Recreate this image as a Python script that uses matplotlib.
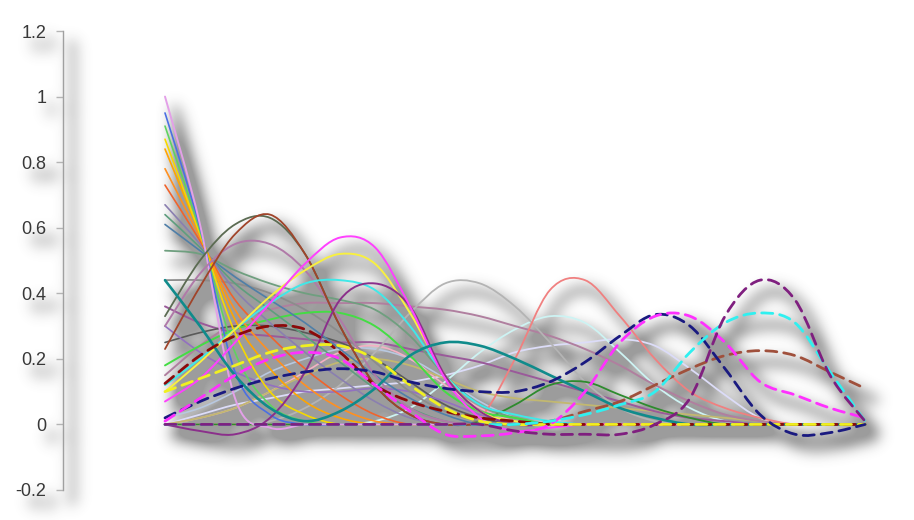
import matplotlib
matplotlib.use("Agg")
import matplotlib.pyplot as plt
from matplotlib.path import Path
from matplotlib.patches import PathPatch
import numpy as np

WIDTH = 914
HEIGHT = 520
AX_RECT = [63 / WIDTH, 30 / HEIGHT, (900 - 63) / WIDTH, 459 / HEIGHT]

# x positions (evenly spaced sample points along the curves)
x_pos = list(range(21))

# y axis ticks
tick_values = [-0.2, 0, 0.2, 0.4, 0.6, 0.8, 1, 1.2]
tick_labels = ["-0.2", "0", "0.2", "0.4", "0.6", "0.8", "1", "1.2"]

# fan of lines starting high on the left
plum = [1.00, 0.61, 0.08, -0.01, 0, 0, 0, 0, 0, 0, 0, 0, 0, 0, 0, 0, 0, 0, 0, 0, 0]
royal = [0.95, 0.60, 0.16, 0.03, 0, 0, 0, 0, 0, 0, 0, 0, 0, 0, 0, 0, 0, 0, 0, 0, 0]
lime = [0.91, 0.59, 0.22, 0.06, 0.01, 0, 0, 0, 0, 0, 0, 0, 0, 0, 0, 0, 0, 0, 0, 0, 0]
gold = [0.87, 0.58, 0.28, 0.10, 0.03, 0, 0, 0, 0, 0, 0, 0, 0, 0, 0, 0, 0, 0, 0, 0, 0]
orange1 = [0.84, 0.58, 0.32, 0.17, 0.07, 0.02, 0, 0, 0, 0, 0, 0, 0, 0, 0, 0, 0, 0, 0, 0, 0]
orange2 = [0.78, 0.57, 0.35, 0.22, 0.12, 0.05, 0.01, 0, 0, 0, 0, 0, 0, 0, 0, 0, 0, 0, 0, 0, 0]
coral = [0.73, 0.56, 0.38, 0.27, 0.17, 0.09, 0.03, 0, 0, 0, 0, 0, 0, 0, 0, 0, 0, 0, 0, 0, 0]
slate = [0.67, 0.55, 0.41, 0.31, 0.22, 0.14, 0.07, 0.02, 0, 0, 0, 0, 0, 0, 0, 0, 0, 0, 0, 0, 0]
seagray = [0.64, 0.54, 0.43, 0.35, 0.27, 0.19, 0.11, 0.05, 0.01, 0, 0, 0, 0, 0, 0, 0, 0, 0, 0, 0, 0]
steel = [0.61, 0.53, 0.45, 0.38, 0.31, 0.23, 0.15, 0.08, 0.03, 0, 0, 0, 0, 0, 0, 0, 0, 0, 0, 0, 0]

# solid bumps
brown = [0.23, 0.42, 0.58, 0.64, 0.52, 0.30, 0.12, 0.03, 0, 0, 0, 0, 0, 0, 0, 0, 0, 0, 0, 0, 0]
olive = [0.33, 0.50, 0.61, 0.63, 0.52, 0.30, 0.12, 0.03, 0, 0, 0, 0, 0, 0, 0, 0, 0, 0, 0, 0, 0]
mauve = [0.30, 0.46, 0.55, 0.55, 0.47, 0.32, 0.15, 0.05, 0.01, 0, 0, 0, 0, 0, 0, 0, 0, 0, 0, 0, 0]
magenta = [0.07, 0.14, 0.25, 0.37, 0.49, 0.57, 0.54, 0.36, 0.14, 0.02, -0.02, -0.01, 0, 0, 0, 0, 0, 0, 0, 0, 0]
yellow = [0.10, 0.19, 0.29, 0.39, 0.47, 0.52, 0.49, 0.34, 0.15, 0.04, 0.01, 0, 0, 0, 0, 0, 0, 0, 0, 0, 0]
cyan = [0.12, 0.20, 0.29, 0.37, 0.43, 0.44, 0.41, 0.30, 0.15, 0.06, 0.03, 0.01, 0, 0, 0, 0, 0, 0, 0, 0, 0]
purple = [0.0, -0.02, -0.03, 0.02, 0.16, 0.38, 0.43, 0.36, 0.15, 0.04, 0, 0, 0, 0, 0, 0, 0, 0, 0, 0, 0]
green = [0.18, 0.24, 0.29, 0.32, 0.34, 0.34, 0.30, 0.21, 0.10, 0.04, 0.02, 0, 0, 0, 0, 0, 0, 0, 0, 0, 0]
gray = [0.44, 0.44, 0.43, 0.40, 0.35, 0.28, 0.19, 0.10, 0.04, 0.01, 0, 0, 0, 0, 0, 0, 0, 0, 0, 0, 0]
sage = [0.53, 0.52, 0.47, 0.43, 0.40, 0.38, 0.35, 0.27, 0.15, 0.06, 0.02, 0, 0, 0, 0, 0, 0, 0, 0, 0, 0]
teal = [0.44, 0.30, 0.15, 0.05, 0.01, 0.04, 0.11, 0.21, 0.25, 0.24, 0.20, 0.15, 0.10, 0.05, 0.02, 0, 0, 0, 0, 0, 0]
silver = [0, 0, 0, 0.01, 0.05, 0.12, 0.22, 0.34, 0.43, 0.43, 0.36, 0.25, 0.13, 0.05, 0.01, 0, 0, 0, 0, 0, 0]
salmon = [0, 0, 0, 0, 0, 0, 0, 0, 0, 0.02, 0.20, 0.41, 0.44, 0.33, 0.20, 0.10, 0.05, 0.02, 0, 0, 0]
palecyan = [0, 0, 0, 0, 0, 0, 0.01, 0.05, 0.13, 0.22, 0.29, 0.33, 0.31, 0.22, 0.12, 0.05, 0.01, 0, 0, 0, 0]
lavender = [0, 0.03, 0.06, 0.08, 0.10, 0.11, 0.12, 0.13, 0.15, 0.18, 0.22, 0.24, 0.25, 0.26, 0.24, 0.17, 0.09, 0.02, 0, 0, 0]
rosy = [0.15, 0.24, 0.31, 0.35, 0.37, 0.37, 0.37, 0.36, 0.35, 0.33, 0.30, 0.27, 0.23, 0.18, 0.12, 0.07, 0.03, 0.01, 0, 0, 0]
orchid = [0.36, 0.31, 0.28, 0.27, 0.26, 0.25, 0.25, 0.23, 0.21, 0.19, 0.16, 0.13, 0.10, 0.07, 0.04, 0.02, 0.01, 0, 0, 0, 0]
khaki = [0, 0.02, 0.05, 0.10, 0.15, 0.19, 0.20, 0.18, 0.14, 0.10, 0.08, 0.07, 0.06, 0.05, 0.04, 0.03, 0.02, 0.01, 0, 0, 0]
forest = [0, 0, 0, 0, 0, 0, 0, 0, 0, 0.01, 0.06, 0.12, 0.13, 0.09, 0.05, 0.02, 0, 0, 0, 0, 0]
lightpink = [0, 0.02, 0.05, 0.10, 0.16, 0.22, 0.24, 0.20, 0.12, 0.05, 0.01, 0, 0, 0, 0, 0, 0, 0, 0, 0, 0]
lightsteel = [0.02, 0.05, 0.10, 0.16, 0.20, 0.23, 0.23, 0.20, 0.14, 0.07, 0.02, 0, 0, 0, 0, 0, 0, 0, 0, 0, 0]
medpurple = [0.30, 0.22, 0.16, 0.12, 0.10, 0.10, 0.11, 0.10, 0.07, 0.03, 0.01, 0, 0, 0, 0, 0, 0, 0, 0, 0, 0]
darkgray = [0.25, 0.28, 0.30, 0.30, 0.28, 0.25, 0.20, 0.13, 0.06, 0.02, 0, 0, 0, 0, 0, 0, 0, 0, 0, 0, 0]

# dashed curves
navy_d = [0.02, 0.07, 0.11, 0.14, 0.16, 0.17, 0.16, 0.13, 0.11, 0.10, 0.10, 0.13, 0.19, 0.27, 0.335, 0.30, 0.17, 0.03, -0.03, -0.025, 0]
magenta_d = [0.01, 0.08, 0.15, 0.20, 0.22, 0.20, 0.12, 0.04, -0.03, -0.035, -0.025, 0, 0.10, 0.25, 0.33, 0.33, 0.25, 0.13, 0.09, 0.05, 0.02]
purple_d = [0, 0, 0, 0, 0, 0, 0, 0, 0, 0, -0.02, -0.03, -0.03, -0.03, 0, 0.08, 0.33, 0.44, 0.38, 0.15, 0.01]
cyan_d = [0, 0, 0, 0, 0, 0, 0, 0, 0, 0, 0, 0.01, 0.03, 0.06, 0.10, 0.22, 0.31, 0.34, 0.31, 0.16, 0.01]
brown_d = [0, 0, 0, 0, 0, 0, 0, 0, 0, 0, 0, 0.01, 0.04, 0.07, 0.12, 0.17, 0.21, 0.225, 0.21, 0.16, 0.11]
darkred_d = [0.125, 0.21, 0.27, 0.30, 0.29, 0.22, 0.12, 0.07, 0.04, 0.02, 0.01, 0, 0, 0, 0, 0, 0, 0, 0, 0, 0]
yellow_d = [0.10, 0.14, 0.18, 0.22, 0.24, 0.24, 0.20, 0.12, 0.05, 0.01, 0, 0, 0, 0, 0, 0, 0, 0, 0, 0, 0]

solid = [
    (lavender, "#dcdcf8", 1.3), (palecyan, "#cdf3f3", 1.3), (lightsteel, "#b8c8e0", 1.2),
    (lightpink, "#f4b0c4", 1.2), (khaki, "#c2b870", 1.3), (rosy, "#b07f9f", 1.4),
    (orchid, "#9a5a9a", 1.4), (silver, "#b4b4b4", 1.3), (salmon, "#f08080", 1.3),
    (forest, "#2e8b2e", 1.3), (darkgray, "#5a5a5a", 1.2), (medpurple, "#9370c0", 1.2),
    (gray, "#8c8c8c", 1.3), (sage, "#6f9f7f", 1.3), (green, "#44dd44", 1.4),
    (steel, "#4f7fa8", 1.2), (seagray, "#5e9e7e", 1.2), (slate, "#8a7fb0", 1.2),
    (coral, "#f0642c", 1.2), (orange2, "#ff9020", 1.2), (orange1, "#ffa500", 1.2),
    (gold, "#f5d800", 1.2), (lime, "#5fd35f", 1.2), (royal, "#4a6fe3", 1.2),
    (plum, "#e3a0e8", 1.4), (mauve, "#b07aa8", 1.4), (olive, "#5b6b52", 1.3),
    (brown, "#a0442a", 1.3), (cyan, "#40e8e8", 1.4), (yellow, "#f8f040", 1.4),
    (purple, "#8b2f8b", 1.4), (magenta, "#ff40ff", 1.4), (teal, "#108b8b", 1.9),
]
dashed = [
    (darkred_d, "#8b0a0a"), (yellow_d, "#f0f020"), (brown_d, "#a0503c"),
    (navy_d, "#1a1a80"), (magenta_d, "#ff30ff"), (cyan_d, "#30f0f0"),
    (purple_d, "#7f1f7f"),
]


def smooth_path(xs, ys):
    # cubic Bezier segments through the read points (Catmull-Rom style handles)
    p = np.column_stack([xs, ys]).astype(float)
    ext = np.vstack([p[0], p, p[-1]])
    verts = [p[0]]
    codes = [Path.MOVETO]
    for i in range(len(p) - 1):
        p0, p1, p2, p3 = ext[i], ext[i + 1], ext[i + 2], ext[i + 3]
        verts += [p1 + (p2 - p0) / 6, p2 - (p3 - p1) / 6, p2]
        codes += [Path.CURVE4] * 3
    return Path(verts, codes)


def add_curve(ax, vals, **kw):
    ax.add_patch(PathPatch(smooth_path(x_pos, vals), fill=False, capstyle="round",
                           joinstyle="round", **kw))


def draw_plot(fig, mono=None):
    ax = fig.add_axes(AX_RECT)
    ax.patch.set_visible(False)
    ax.set_xlim(-102 / 35, 21)
    ax.set_ylim(-0.2, 1.2)
    for vals, c, lw in solid:
        add_curve(ax, vals, edgecolor=mono or c, lw=4.5 if mono else lw)
    for vals, c in dashed:
        if mono:
            add_curve(ax, vals, edgecolor=mono, lw=5)
        else:
            add_curve(ax, vals, edgecolor=c, lw=2.0, linestyle=(0, (4, 2.5)))
    for s in ["top", "right", "bottom"]:
        ax.spines[s].set_visible(False)
    ax.spines["left"].set_color(mono or "#a0a0a0")
    ax.spines["left"].set_linewidth(3 if mono else 1.0)
    ax.set_xticks([])
    ax.set_yticks(tick_values)
    ax.set_yticklabels(tick_labels)
    ax.tick_params(axis="y", length=5, width=1, color=mono or "#b4b4b4", pad=7,
                   labelsize=13, labelcolor=mono or "#383838")
    for lab in ax.get_yticklabels():
        lab.set_fontfamily("Liberation Sans")
        if mono:
            lab.set_fontweight("bold")
    return ax


def blur_rows(a, k):
    return np.apply_along_axis(lambda r: np.convolve(r, k, mode="same"), 1, a)


# render a black silhouette of everything, then blur it into a drop shadow
mfig = plt.figure(figsize=(WIDTH / 100, HEIGHT / 100), dpi=100)
draw_plot(mfig, mono="black")
mfig.canvas.draw()
mask = 1.0 - np.asarray(mfig.canvas.buffer_rgba())[..., 0].astype(float) / 255.0
plt.close(mfig)

sigma = 7.0
t = np.arange(-22, 23)
kern = np.exp(-0.5 * (t / sigma) ** 2)
kern /= kern.sum()
soft = blur_rows(blur_rows(mask, kern).T, kern).T
dx, dy = 10, 12
shadow = np.zeros_like(soft)
shadow[dy:, dx:] = soft[:-dy, :-dx]

rgba = np.zeros((HEIGHT, WIDTH, 4))
rgba[..., :3] = 0.3
rgba[..., 3] = np.clip(shadow * 0.8, 0, 0.55)

fig = plt.figure(figsize=(WIDTH / 100, HEIGHT / 100), dpi=100)
fig.figimage(rgba, xo=0, yo=0, origin="upper", zorder=-1)
draw_plot(fig)
fig.savefig("out.png", dpi=100)
